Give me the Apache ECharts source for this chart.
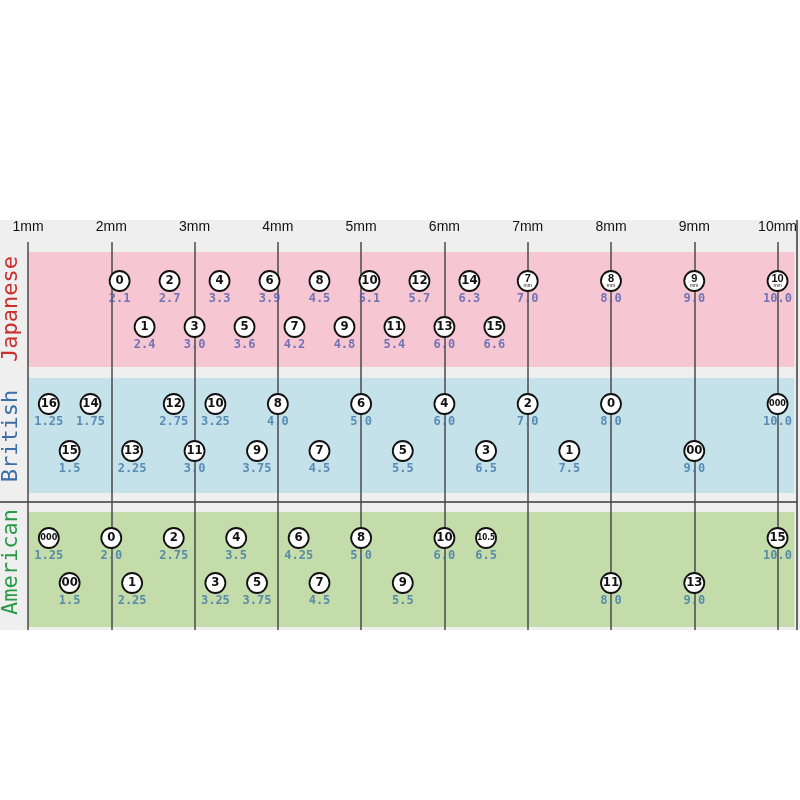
<!DOCTYPE html>
<html><head><meta charset="utf-8">
<script src="https://cdn.jsdelivr.net/npm/echarts@6/dist/echarts.min.js"></script>
<style>html,body{margin:0;padding:0;background:#fff}#c{width:800px;height:800px}</style>
</head><body><div id="c"></div>
<script>
// ---- data ----
const tickMm = [1, 2, 3, 4, 5, 6, 7, 8, 9, 10];
const japaneseSizes = ['0','1','2','3','4','5','6','7','8','9','10','11','12','13','14','15','7mm','8mm','9mm','10mm'];
const japaneseMm = [2.1,2.4,2.7,3.0,3.3,3.6,3.9,4.2,4.5,4.8,5.1,5.4,5.7,6.0,6.3,6.6,7.0,8.0,9.0,10.0];
const japaneseLine = [0,1,0,1,0,1,0,1,0,1,0,1,0,1,0,1,0,0,0,0];
const britishSizes = ['16','15','14','13','12','11','10','9','8','7','6','5','4','3','2','1','0','00','000'];
const britishMm = [1.25,1.5,1.75,2.25,2.75,3.0,3.25,3.75,4.0,4.5,5.0,5.5,6.0,6.5,7.0,7.5,8.0,9.0,10.0];
const britishLine = [0,1,0,1,0,1,0,1,0,1,0,1,0,1,0,1,0,1,0];
const americanSizes = ['000','00','0','1','2','3','4','5','6','7','8','9','10','10.5','11','13','15'];
const americanMm = [1.25,1.5,2.0,2.25,2.75,3.25,3.5,3.75,4.25,4.5,5.0,5.5,6.0,6.5,8.0,9.0,10.0];
const americanLine = [0,1,0,1,0,1,0,1,0,1,0,1,0,0,1,1,0];
const systemNames = ['Japanese', 'British', 'American'];

// ---- layout / style ----
const GRID = { left: 28, top: 242, width: 769, height: 388 };
const PX_PER_MM = 83.56;
const X_MAX = 1 + GRID.width / PX_PER_MM;
const systems = [
  { name: systemNames[0], sizes: japaneseSizes, mm: japaneseMm, line: japaneseLine,
    rowY: [39, 85], band: [10, 125], bandColor: '#f6c6d2', nameColor: '#c9302c', valueColor: '#4f5fae', nameY: 309 },
  { name: systemNames[1], sizes: britishSizes, mm: britishMm, line: britishLine,
    rowY: [162, 209], band: [136, 251], bandColor: '#c5e1e9', nameColor: '#3b6ea6', valueColor: '#3c77a9', nameY: 436 },
  { name: systemNames[2], sizes: americanSizes, mm: americanMm, line: americanLine,
    rowY: [296, 341], band: [270, 385], bandColor: '#c4dcaa', nameColor: '#2a9a48', valueColor: '#3c77a9', nameY: 562 }
];

function fmtMm(v) { return Number.isInteger(v) ? v.toFixed(1) : String(v); }
function fmtSize(s) {
  if (s.endsWith('mm')) return '{n|' + s.replace('mm', '') + '}\n{m|mm}';
  if (s.length >= 4) return '{u|' + s + '}';
  if (s.length >= 3) return '{t|' + s + '}';
  return '{s|' + s + '}';
}

const NARROW = '"Liberation Sans Narrow","DejaVu Sans Condensed","Liberation Sans",sans-serif';
const series = [];
series.push({
  type: 'scatter', z: 1, silent: true, data: [],
  markArea: { silent: true, z: 1, data: systems.map(s => [
    { yAxis: s.band[0], itemStyle: { color: s.bandColor } }, { yAxis: s.band[1] }
  ]) }
});
series.push({
  type: 'scatter', z: 2, silent: true, data: [],
  markLine: { silent: true, z: 2, symbol: 'none', label: { show: false },
    lineStyle: { color: '#4a4a4a', width: 1.5, type: 'solid' },
    data: tickMm.map(t => ({ xAxis: t })) }
});
systems.forEach(s => {
  const pts = s.mm.map((v, i) => [v, s.rowY[s.line[i]], s.sizes[i]]);
  series.push({
    type: 'scatter', z: 10, name: s.name, symbol: 'circle', symbolSize: 20,
    itemStyle: { color: '#ffffff', borderColor: '#111', borderWidth: 1.8, opacity: 1 },
    label: { show: true, position: 'inside', formatter: p => fmtSize(p.data[2]), color: '#111',
      rich: {
        s: { fontSize: 13, fontWeight: 'bold', color: '#111', fontFamily: NARROW },
        t: { fontSize: 9, fontWeight: 'bold', color: '#111', fontFamily: NARROW },
        u: { fontSize: 8, fontWeight: 'bold', color: '#111', fontFamily: NARROW },
        n: { fontSize: 11, fontWeight: 'bold', color: '#111', lineHeight: 10, fontFamily: '"Liberation Sans",sans-serif' },
        m: { fontSize: 5, color: '#111', lineHeight: 5, fontFamily: '"Liberation Sans",sans-serif' }
      } },
    data: pts
  });
  series.push({
    type: 'scatter', z: 11, symbol: 'circle', symbolSize: 1,
    itemStyle: { color: 'rgba(0,0,0,0)' },
    label: { show: true, position: 'inside', offset: [0, 18], formatter: p => fmtMm(p.data[0]),
      color: s.valueColor, fontSize: 12, fontWeight: 'bold', fontFamily: '"DejaVu Sans Mono",monospace' },
    data: pts
  });
});

const graphic = [
  { type: 'rect', silent: true, shape: { x: 0, y: 0, width: 800, height: 220 }, style: { fill: '#ffffff' } },
  { type: 'rect', silent: true, shape: { x: 0, y: 630, width: 800, height: 170 }, style: { fill: '#ffffff' } },
  { type: 'line', silent: true, shape: { x1: 0, y1: 502, x2: 797, y2: 502 }, style: { stroke: '#3a3a3a', lineWidth: 1.5 } },
  { type: 'line', silent: true, shape: { x1: 797, y1: 220, x2: 797, y2: 630 }, style: { stroke: '#3a3a3a', lineWidth: 1.5 } }
];
systems.forEach(s => {
  graphic.push({ type: 'text', silent: true, x: 11, y: s.nameY, rotation: Math.PI / 2,
    style: { text: s.name, fill: s.nameColor, font: '22px "DejaVu Sans Mono", monospace', textAlign: 'center', textVerticalAlign: 'middle' } });
});

const chart = echarts.init(document.getElementById('c'));
chart.setOption({
  animation: false,
  backgroundColor: '#efefef',
  grid: { left: GRID.left, top: GRID.top, width: GRID.width, height: GRID.height, containLabel: false },
  xAxis: { type: 'value', position: 'top', min: 1, max: X_MAX, interval: 1,
    axisLine: { show: false }, axisTick: { show: false }, splitLine: { show: false },
    axisLabel: { margin: 8, color: '#111', fontSize: 14, fontFamily: '"Liberation Sans",sans-serif',
      formatter: v => Math.abs(v - Math.round(v)) < 1e-6 ? Math.round(v) + 'mm' : '' } },
  yAxis: { type: 'value', min: 0, max: GRID.height, inverse: true, show: false },
  graphic: graphic,
  series: series
});
</script></body></html>
